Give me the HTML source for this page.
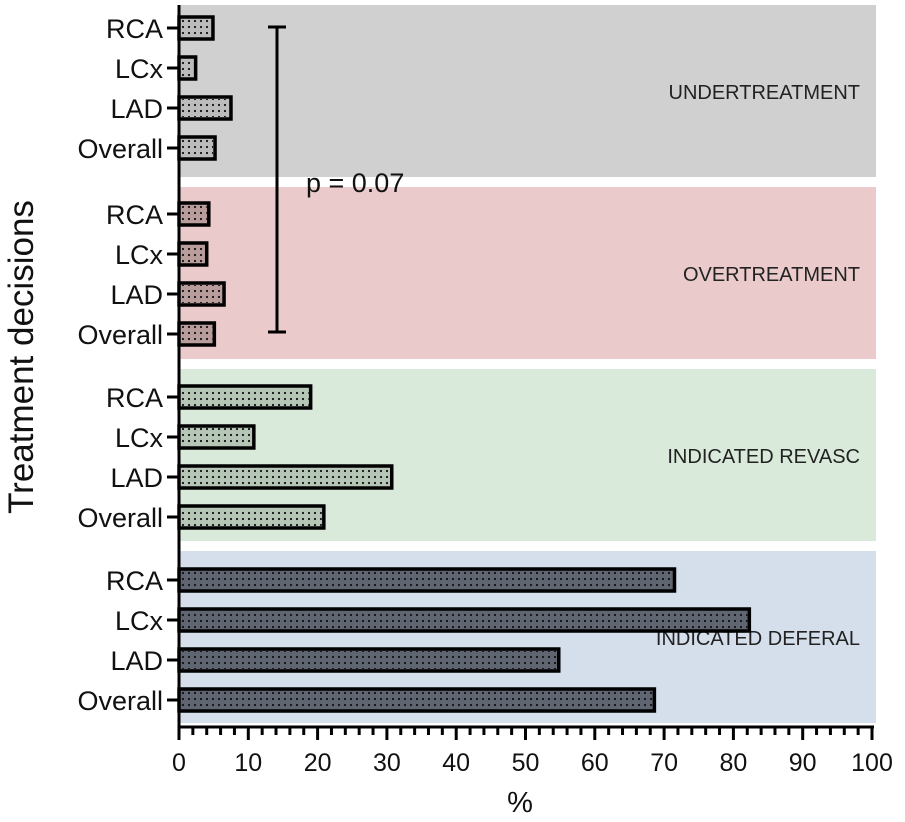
<!DOCTYPE html>
<html><head><meta charset="utf-8"><style>
body{margin:0;background:#fff}
svg{display:block;font-family:"Liberation Sans",Arial,sans-serif}
</style></head><body>
<svg id="chart" width="905" height="822" viewBox="0 0 905 822">
<defs>
<pattern id="dots" width="6" height="6" patternUnits="userSpaceOnUse"><circle cx="3" cy="3" r="1.1" fill="#111"/></pattern>
</defs>
<g id="bands"></g><g id="bars"></g><g id="axes"></g>
</svg>
<script>
const groups = ["UNDERTREATMENT","OVERTREATMENT","INDICATED REVASC","INDICATED DEFERAL"];
const categories = ["RCA","LCx","LAD","Overall"];
const undertreatment = [4.9, 2.4, 7.5, 5.2];
const overtreatment = [4.3, 4.0, 6.5, 5.1];
const indicatedRevasc = [19.0, 10.8, 30.7, 20.9];
const indicatedDeferal = [71.5, 82.3, 54.8, 68.6];
const xTicks = [0,10,20,30,40,50,60,70,80,90,100];
const series = [undertreatment, overtreatment, indicatedRevasc, indicatedDeferal];
const bandColors = ["#d0d0d0","#eacaca","#d9eadb","#d5dfeb"];
const barColors = ["#bcbcbc","#b99c9c","#b5c5b6","#5f6571"];
const NS="http://www.w3.org/2000/svg";
const x0=179, x1=872;
const xs=v=>x0+(x1-x0)*v/100;
const bandTop=[5,187,369,551], bandH=172, barOff=[23,27,28,29];
function mk(tag,attrs,parent){const e=document.createElementNS(NS,tag);for(const k in attrs)e.setAttribute(k,attrs[k]);parent.appendChild(e);return e;}
const gB=document.getElementById('bands'), gR=document.getElementById('bars'), gA=document.getElementById('axes');
groups.forEach((g,gi)=>{
  const t=bandTop[gi];
  const r=mk('rect',{x:x0,y:t,width:876-x0,height:bandH,fill:bandColors[gi]},gB);
  
  
  const tx=mk('text',{x:860,y:t+bandH/2+8,'text-anchor':'end','font-size':20,fill:'#222'},gB);
  tx.textContent=g;
  
  
  categories.forEach((c,ci)=>{
    const cy=t+barOff[gi]+ci*40;
    const v=series[gi][ci];
    const w=xs(v)-x0;
    const b=mk('rect',{x:x0,y:cy-11,width:w,height:22,fill:barColors[gi],stroke:'#000','stroke-width':3.5},gR);
    
    
    const p=mk('rect',{x:x0+2,y:cy-9,width:Math.max(w-4,0),height:18,fill:'url(#dots)'},gR);
    
    
    mk('line',{x1:x0-12,x2:x0,y1:cy,y2:cy,stroke:'#000','stroke-width':3},gA);
    const l=mk('text',{x:x0-16,y:cy+10,'text-anchor':'end','font-size':27,fill:'#111'},gA);
    l.textContent=c;
    
    
  });
});
mk('line',{x1:x0,x2:x0,y1:5,y2:728,stroke:'#000','stroke-width':3},gA);
mk('line',{x1:x0-1.5,x2:x1+2,y1:727,y2:727,stroke:'#000','stroke-width':3},gA);
for(let v=0;v<=100;v+=2){
  const major=v%10===0;
  mk('line',{x1:xs(v),x2:xs(v),y1:727,y2:major?740:735,stroke:'#000','stroke-width':3},gA);
}
xTicks.forEach(v=>{
  const t=mk('text',{x:xs(v),y:771,'text-anchor':'middle','font-size':25,fill:'#111'},gA);
  t.textContent=v;
  
  
});
const xt=mk('text',{x:520,y:812,'text-anchor':'middle','font-size':29,fill:'#111'},gA);
xt.textContent='%';


const yt=mk('text',{x:0,y:0,'text-anchor':'middle','font-size':35,fill:'#111',transform:'translate(33,357) rotate(-90)'},gA);
yt.textContent='Treatment decisions';


const br=mk('g',{},gA);


mk('line',{x1:277,x2:277,y1:27,y2:332,stroke:'#000','stroke-width':3},br);
mk('line',{x1:268,x2:286,y1:27,y2:27,stroke:'#000','stroke-width':3},br);
mk('line',{x1:268,x2:286,y1:332,y2:332,stroke:'#000','stroke-width':3},br);
const pv=mk('text',{x:306,y:192,'font-size':27,fill:'#111'},br);
pv.textContent='p = 0.07';


</script>
</body></html>
